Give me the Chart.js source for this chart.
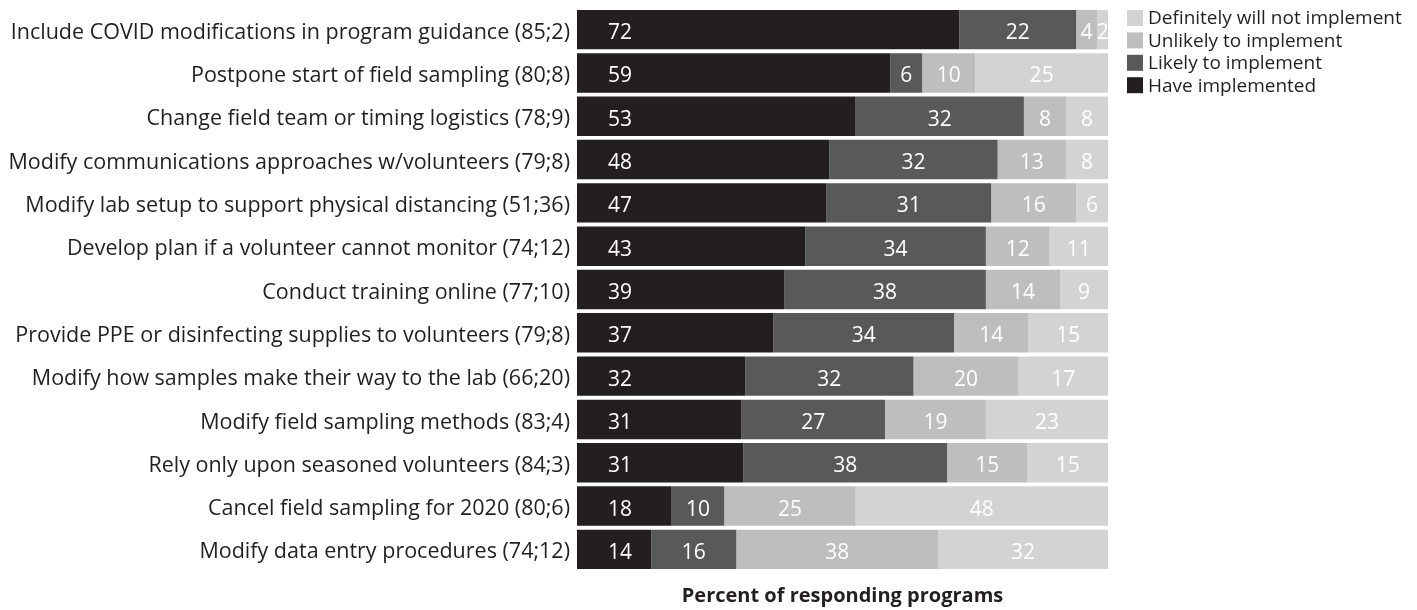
<!DOCTYPE html>
<html>
<head>
<meta charset="utf-8">
<script src="https://cdn.jsdelivr.net/npm/chart.js@4.4.1/dist/chart.umd.min.js"></script>
<style>
  html, body { margin: 0; padding: 0; background: #fff; }
  #wrap { width: 1417px; height: 610px; }
</style>
</head>
<body>
<div id="wrap"><canvas id="covid-chart"></canvas></div>
<script>
const categories = [
  'Include COVID modifications in program guidance (85;2)',
  'Postpone start of field sampling (80;8)',
  'Change field team or timing logistics (78;9)',
  'Modify communications approaches w/volunteers (79;8)',
  'Modify lab setup to support physical distancing (51;36)',
  'Develop plan if a volunteer cannot monitor (74;12)',
  'Conduct training online (77;10)',
  'Provide PPE or disinfecting supplies to volunteers (79;8)',
  'Modify how samples make their way to the lab (66;20)',
  'Modify field sampling methods (83;4)',
  'Rely only upon seasoned volunteers (84;3)',
  'Cancel field sampling for 2020 (80;6)',
  'Modify data entry procedures (74;12)'
]

const seriesNames = ['Have implemented', 'Likely to implement', 'Unlikely to implement', 'Definitely will not implement']
const haveImplemented = [72, 59, 53, 48, 47, 43, 39, 37, 32, 31, 31, 18, 14]
const likelyToImplement = [22, 6, 32, 32, 31, 34, 38, 34, 32, 27, 38, 10, 16]
const unlikelyToImplement = [4, 10, 8, 13, 16, 12, 14, 14, 20, 19, 15, 25, 38]
const definitelyNot = [2, 25, 8, 8, 6, 11, 9, 15, 17, 23, 15, 48, 32]

const colors = ['#231f20', '#58595b', '#bcbec0', '#d1d3d4']
const textColor = '#231f20'
const fontFamily = "'Open Sans', sans-serif"

const series = [haveImplemented, likelyToImplement, unlikelyToImplement, definitelyNot]
// the published bars are all drawn full width, so scale each row to its own total
const rowTotals = categories.map((c, j) => series.reduce((sum, s) => sum + s[j], 0))

const datasets = series.map((values, i) => ({
  label: seriesNames[i],
  data: values.map((v, j) => v / rowTotals[j] * 100),
  raw: values,
  backgroundColor: colors[i],
  borderWidth: 0,
  barPercentage: 1,
  categoryPercentage: 0.91
}))

// numbers inside the segments
const barLabels = {
  id: 'barLabels',
  afterDatasetsDraw(chart) {
    const ctx = chart.ctx
    ctx.save()
    ctx.font = '21px ' + fontFamily
    ctx.fillStyle = '#ffffff'
    ctx.textAlign = 'center'
    ctx.textBaseline = 'middle'
    chart.data.datasets.forEach((ds, i) => {
      chart.getDatasetMeta(i).data.forEach((bar, j) => {
        const x = i === 0 ? bar.base + 43 : (bar.x + bar.base) / 2
        ctx.fillText(ds.raw[j], x, bar.y + 3.5)
      })
    })
    ctx.restore()
  }
}

// legend stacked in the top right corner, lightest first
const sideLegend = {
  id: 'sideLegend',
  afterDraw(chart) {
    const ctx = chart.ctx
    const left = chart.chartArea.right + 19
    const n = chart.data.datasets.length
    ctx.save()
    ctx.font = '19px ' + fontFamily
    ctx.textAlign = 'left'
    ctx.textBaseline = 'middle'
    for (let k = 0; k < n; k++) {
      const ds = chart.data.datasets[n - 1 - k]
      const top = 10 + k * 22.4
      ctx.fillStyle = ds.backgroundColor
      ctx.fillRect(left, top, 16, 16)
      ctx.fillStyle = textColor
      ctx.fillText(ds.label, left + 21, top + 9)
    }
    ctx.restore()
  }
}

const ctx = document.getElementById('covid-chart')

const covidChart = new Chart(ctx, {
  type: 'bar',
  data: {
    labels: categories,
    datasets
  },
  plugins: [barLabels, sideLegend],
  options: {
    indexAxis: 'y',
    responsive: true,
    maintainAspectRatio: false,
    animation: false,
    devicePixelRatio: 1,
    layout: {
      padding: { left: 0, right: 309, top: 8, bottom: 0 }
    },
    plugins: {
      legend: { display: false },
      tooltip: { enabled: false }
    },
    scales: {
      x: {
        stacked: true,
        min: 0,
        max: 100,
        grid: { display: false, drawTicks: false },
        border: { display: false },
        ticks: { display: false },
        title: {
          display: true,
          text: 'Percent of responding programs',
          color: textColor,
          font: { size: 20, family: fontFamily, weight: 'bold' },
          padding: { top: 13, bottom: 2 }
        }
      },
      y: {
        stacked: true,
        grid: { display: false, drawTicks: false },
        border: { display: false },
        afterFit(scale) {
          scale.width = 577
          scale.paddingTop = 0
          scale.paddingBottom = 0
        },
        ticks: {
          color: textColor,
          padding: 7,
          labelOffset: 3,
          font: { size: 21.5, family: fontFamily }
        }
      }
    }
  }
})
</script>
</body>
</html>
